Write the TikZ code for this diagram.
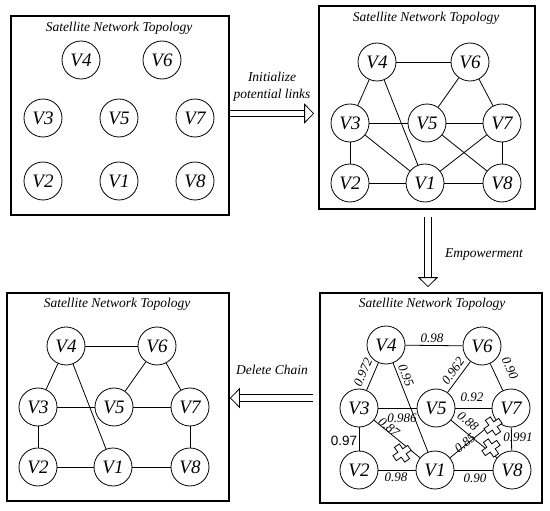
\documentclass[tikz,border=0pt]{standalone}
\usepackage{fontspec}
\setmainfont{Liberation Serif}[ItalicFont={Liberation Serif Italic}]
\newfontfamily\arialfont{Liberation Sans}
\usetikzlibrary{arrows.meta}

\tikzset{
    sat/.style={circle, draw, line width=0.8pt, minimum size=38pt, inner sep=0pt,
        font=\fontsize{19}{19}\selectfont\itshape},
    panel/.style={draw, line width=1.6pt, inner sep=0pt},
    title/.style={font=\fontsize{13.5}{17}\selectfont\itshape, align=center},
    link/.style={line width=0.8pt},
    weight/.style={font=\fontsize{13}{13}\selectfont\itshape, inner sep=1pt},
    hollow/.style={double, double distance=5.5pt, line width=0.8pt,
        -{Triangle[open, length=10pt, width=20pt, fill=white]}},
    cut/.pic={
        \draw[line width=0.8pt, fill=white] (-3,-9) -- (3,-9) -- (3,-3) -- (9,-3)
            -- (9,3) -- (3,3) -- (3,9) -- (-3,9) -- (-3,3) -- (-9,3)
            -- (-9,-3) -- (-3,-3) -- cycle;
    }
}

\begin{document}
\begin{tikzpicture}[x=1pt, y=-1pt]
    \useasboundingbox (0,0) rectangle (550,511);
    %\draw[help lines, step=50] (0,0) grid (550,511);

    % panels
    \node[panel, minimum width=218pt, minimum height=199pt] (boxA) at (120,115.5) {};
    \node[panel, minimum width=216pt, minimum height=203pt] (boxB) at (427,107.5) {};
    \node[panel, minimum width=222pt, minimum height=210pt] (boxC) at (431,398) {};
    \node[panel, minimum width=222pt, minimum height=208pt] (boxD) at (118,397) {};
    \node[title] (titleA) at (119,28) {Satellite Network Topology};
    \node[title] (titleB) at (426,18) {Satellite Network Topology};
    \node[title] (titleC) at (432,304) {Satellite Network Topology};
    \node[title] (titleD) at (117,304) {Satellite Network Topology};

    % panel A: satellites only
    \node[sat] (aV4) at (81,60) {V4};
    \node[sat] (aV6) at (162,60) {V6};
    \node[sat] (aV3) at (43,118) {V3};
    \node[sat] (aV5) at (119,118) {V5};
    \node[sat] (aV7) at (195,118) {V7};
    \node[sat] (aV2) at (43,181) {V2};
    \node[sat] (aV1) at (119,181) {V1};
    \node[sat] (aV8) at (195,181) {V8};

    % panel B: potential links
    \node[sat] (bV4) at (377,62) {V4};
    \node[sat] (bV6) at (470,62) {V6};
    \node[sat] (bV3) at (350,123) {V3};
    \node[sat] (bV5) at (427,123) {V5};
    \node[sat] (bV7) at (502,123) {V7};
    \node[sat] (bV2) at (350,183) {V2};
    \node[sat] (bV1) at (425,183) {V1};
    \node[sat] (bV8) at (502,183) {V8};
    \draw[link] (bV4) -- (bV6);
    \draw[link] (bV4) -- (bV3);
    \draw[link] (bV4) -- (bV1);
    \draw[link] (bV6) -- (bV5);
    \draw[link] (bV6) -- (bV7);
    \draw[link] (bV3) -- (bV5);
    \draw[link] (bV3) -- (bV2);
    \draw[link] (bV3) -- (bV1);
    \draw[link] (bV5) -- (bV7);
    \draw[link] (bV5) -- (bV8);
    \draw[link] (bV7) -- (bV1);
    \draw[link] (bV7) -- (bV8);
    \draw[link] (bV2) -- (bV1);
    \draw[link] (bV1) -- (bV8);

    % panel C: weighted links
    \node[sat] (cV4) at (386,345) {V4};
    \node[sat] (cV6) at (482,346) {V6};
    \node[sat] (cV3) at (359,408) {V3};
    \node[sat] (cV5) at (436,408) {V5};
    \node[sat] (cV7) at (511,408) {V7};
    \node[sat] (cV2) at (359,470) {V2};
    \node[sat] (cV1) at (435,470) {V1};
    \node[sat] (cV8) at (512,470) {V8};
    \draw[link] (cV4) -- (cV6);
    \draw[link] (cV4) -- (cV3);
    \draw[link] (cV4) -- (cV1);
    \draw[link] (cV6) -- (cV5);
    \draw[link] (cV6) -- (cV7);
    \draw[link] (cV3) -- (cV5);
    \draw[link] (cV3) -- (cV2);
    \draw[link] (cV3) -- (cV1);
    \draw[link] (cV5) -- (cV7);
    \draw[link] (cV5) -- (cV8);
    \draw[link] (cV7) -- (cV1);
    \draw[link] (cV7) -- (cV8);
    \draw[link] (cV2) -- (cV1);
    \draw[link] (cV1) -- (cV8);
    \node[weight] (w46) at (432,338) {0.98};
    \node[weight, rotate=67] (w43) at (363,372) {0.972};
    \node[weight, rotate=-68] (w41) at (406,375) {0.95};
    \node[weight, rotate=54] (w65) at (453,371) {0.962};
    \node[weight, rotate=-65] (w67) at (510,368) {0.90};
    \node[weight] (w57) at (472,397) {0.92};
    \node[weight] (w35) at (402,418) {0.986};
    \node[weight, rotate=-39] (w31) at (389,427) {0.87};
    \node[weight, rotate=-39] (w58) at (468,421) {0.88};
    \node[weight, rotate=39] (w17) at (465,443) {0.85};
    \node[weight] (w78) at (518,437) {0.991};
    \node[weight, font=\fontsize{13.5}{13.5}\selectfont\arialfont] (w32) at (344,441) {0.97};
    \node[weight] (w21) at (396,477) {0.98};
    \node[weight] (w18) at (475,478) {0.90};
    % cut marks
    \pic[rotate=35] at (402,453) {cut};
    \pic[rotate=35] at (493,426) {cut};
    \pic[rotate=35] at (491,448) {cut};

    % panel D: remaining links
    \node[sat] (dV4) at (66,346) {V4};
    \node[sat] (dV6) at (157,346) {V6};
    \node[sat] (dV3) at (38,407) {V3};
    \node[sat] (dV5) at (114,407) {V5};
    \node[sat] (dV7) at (190,407) {V7};
    \node[sat] (dV2) at (38,467) {V2};
    \node[sat] (dV1) at (113,467) {V1};
    \node[sat] (dV8) at (190,467) {V8};
    \draw[link] (dV4) -- (dV6);
    \draw[link] (dV4) -- (dV3);
    \draw[link] (dV4) -- (dV1);
    \draw[link] (dV6) -- (dV5);
    \draw[link] (dV6) -- (dV7);
    \draw[link] (dV3) -- (dV5);
    \draw[link] (dV5) -- (dV7);
    \draw[link] (dV3) -- (dV2);
    \draw[link] (dV2) -- (dV1);
    \draw[link] (dV1) -- (dV8);
    \draw[link] (dV7) -- (dV8);

    % steps
    \draw[hollow, shorten >=4pt] ([yshift=2pt]boxA.east) -- ([yshift=2pt]boxA.east -| boxB.west);
    \node[title] (initText) at (272,87) {Initialize\\potential links};
    \draw[hollow, shorten <=7pt, shorten >=5pt] ([xshift=1pt]boxB.south) -- ([xshift=1pt]boxB.south |- boxC.north);
    \node[title] (empText) at (484,255) {Empowerment};
    \draw[hollow, shorten <=6pt] (boxC.west) -- (boxC.west -| boxD.east);
    \node[title] (delText) at (272,370) {Delete Chain};
\end{tikzpicture}
\end{document}
